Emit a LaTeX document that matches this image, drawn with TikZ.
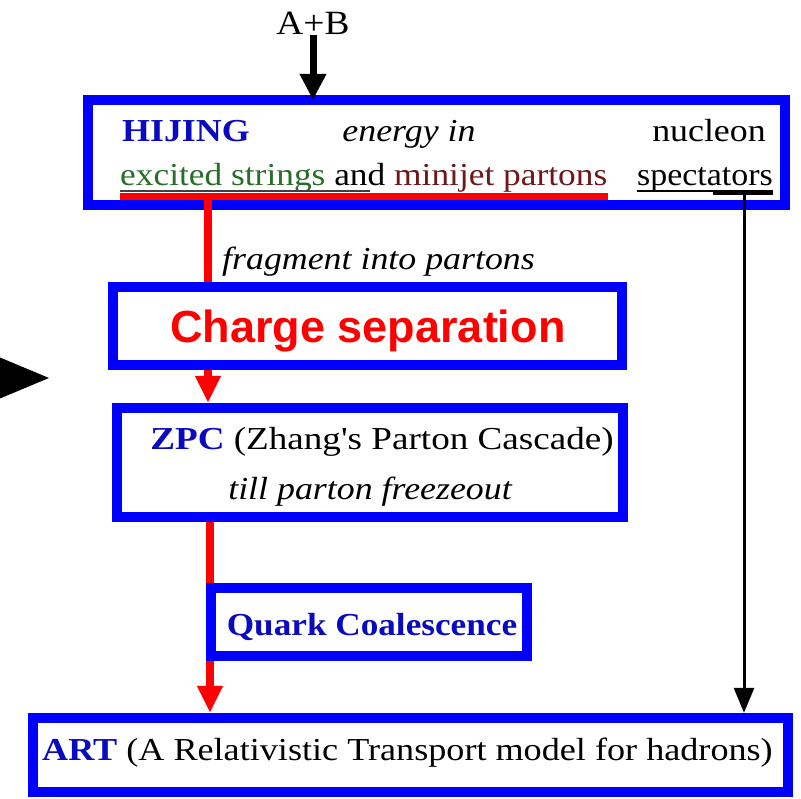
\documentclass[tikz,border=0pt]{standalone}
\usepackage{graphicx}
\usepackage{fontspec}
\setmainfont{Liberation Serif}
\newfontfamily\rawserif{Liberation Serif}
\newfontfamily\arialfont{Liberation Sans}
\usetikzlibrary{arrows.meta}
\definecolor{boxblue}{RGB}{0,0,255}
\definecolor{txtblue}{RGB}{10,10,190}
\definecolor{strgreen}{RGB}{40,110,40}
\definecolor{jetred}{RGB}{110,25,25}
\definecolor{pureRed}{RGB}{255,0,0}
\newcommand\sx[1]{\scalebox{1.12}[1]{#1}}
\newcommand\sxx[2]{\scalebox{#1}[1]{#2}}
\begin{document}
\begin{tikzpicture}[x=1pt,y=-1pt,
  box/.style={draw=boxblue, line width=10pt, fill=white, inner sep=0pt},
  txt/.style={inner sep=0pt, font=\fontsize{32}{38}\selectfont},
  redarrow/.style={draw=pureRed, line width=8pt, -{Triangle[length=27pt,width=24pt]}},
  blackarrow/.style={draw=black, line width=3pt, -{Triangle[length=25pt,width=20pt]}},
  bigarrow/.style={draw=black, line width=7pt, -{Triangle[length=26pt,width=25pt]}}]
\useasboundingbox (0,0) rectangle (801,799);
\fill[white] (0,0) rectangle (801,799);

% top input
\node[txt, anchor=base, font=\fontsize{34}{40}\selectfont] (ab) at (313,35) {\sxx{1.1}{A+B}};

% HIJING box
\node[box, minimum width=697pt, minimum height=105pt] (hijing) at (436.5,152.5) {};
\node[txt, anchor=base west] (hij) at (122,142) {\sx{\color{txtblue}\bfseries HIJING}};
\node[txt, anchor=base] (energy) at (409,142) {\sx{\itshape energy in}};
\node[txt, anchor=base] (nucleon) at (709,142) {\sx{nucleon}};
\node[txt, anchor=base west] (strings) at (120,186) {\sxx{1.105}{{\color{strgreen}excited strings} and {\color{jetred}minijet partons}}};
\node[txt, anchor=base west] (spect) at (637,186) {\sxx{1.06}{spectators}};

\draw[bigarrow] (ab.south) -- ([yshift=-5pt]ab.south |- hijing.north);

% underlines
\draw[darkgray, line width=1.2pt] (120,191) -- (370,191);
\draw[pureRed, line width=7pt] (120,197) -- (608,197);
\draw[black, line width=2pt] (637,191) -- (773,191);
\draw[black, line width=4pt] (713,193) -- (773,193);
\coordinate (redstart) at (208,197);
\coordinate (specstart) at (744,193);

% other boxes (positions)
\path (367.5,326) coordinate (cpos) (370,462.5) coordinate (zpos)
      (369,622) coordinate (qpos) (410.5,755) coordinate (apos);

% connectors (drawn before the lower boxes)
\node[minimum width=506pt, minimum height=109pt, inner sep=0pt] (zpc) at (zpos) {};
\node[minimum width=755pt, minimum height=74pt, inner sep=0pt] (art) at (apos) {};
\draw[redarrow, shorten >=5pt] (redstart) -- (redstart |- zpc.north);
\draw[redarrow, shorten >=5pt, shorten <=-5pt] (zpc.south -| 210,0) -- (art.north -| 210,0);
\draw[blackarrow, shorten >=5pt] (specstart) -- (specstart |- art.north);

% Charge separation
\node[box, minimum width=509pt, minimum height=78pt] (charge) at (cpos) {};
\node[anchor=base, inner sep=0pt] (chargetxt) at (368,343)
  {\color{pureRed}\arialfont\bfseries\fontsize{45}{50}\selectfont Charge separation};
\node[txt, anchor=base west] (frag) at (222,270) {\sx{\itshape fragment into partons}};

% ZPC
\node[box, minimum width=506pt, minimum height=109pt] (zpcbox) at (zpos) {};
\node[txt, anchor=base] (zpc1) at (382,450) {\sxx{1.16}{{\color{txtblue}\bfseries ZPC} (Zhang{\rawserif '}s Parton Cascade)}};
\node[txt, anchor=base] (zpc2) at (370,500) {\sx{\itshape till parton freezeout}};

% Quark coalescence
\node[box, minimum width=316pt, minimum height=68pt] (quark) at (qpos) {};
\node[txt, anchor=base] (quarkt) at (372,635) {\sxx{1.1}{\color{txtblue}\bfseries Quark Coalescence}};

% ART
\node[box, minimum width=755pt, minimum height=74pt] (artbox) at (apos) {};
\node[txt, anchor=base west] (artt) at (42,760) {\sxx{1.13}{{\color{txtblue}\bfseries ART} (A Relativistic Transport model for hadrons)}};

% big black pointer at left
\fill[black] (-6,355) -- (49,378) -- (-6,401) -- cycle;
\end{tikzpicture}
\end{document}
